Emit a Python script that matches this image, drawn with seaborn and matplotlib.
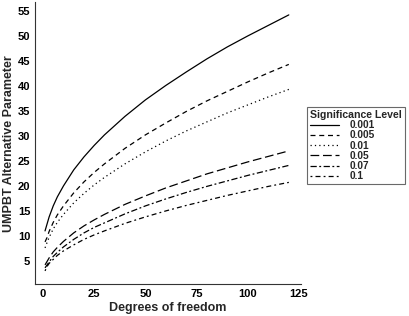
import numpy as np
import pandas as pd
import matplotlib
matplotlib.use('Agg')
import matplotlib.pyplot as plt
import seaborn as sns

df_vals = [1, 2, 3, 5, 7, 10, 15, 20, 25, 30, 40, 50, 60, 70, 80, 90, 100, 110, 120]

# UMPBT alternative parameter for each significance level
p_001 = [11.0, 12.4, 13.8, 16.0, 17.8, 20.0, 23.2, 25.8, 28.1, 30.2, 33.9, 37.2, 40.1, 42.8, 45.4, 47.8, 50.0, 52.1, 54.2]
p_005 = [8.8, 9.7, 10.9, 12.7, 14.2, 16.0, 18.6, 20.8, 22.7, 24.4, 27.5, 30.2, 32.6, 34.9, 37.0, 38.9, 40.8, 42.6, 44.3]
p_01 = [7.6, 8.7, 9.7, 11.4, 12.7, 14.3, 16.6, 18.5, 20.2, 21.7, 24.4, 26.8, 29.0, 31.0, 32.8, 34.6, 36.2, 37.8, 39.3]
p_05 = [4.2, 4.9, 5.6, 6.8, 7.7, 8.9, 10.6, 12.0, 13.2, 14.3, 16.3, 18.0, 19.6, 21.0, 22.4, 23.6, 24.8, 25.9, 27.0]
p_07 = [3.6, 4.2, 4.8, 5.9, 6.7, 7.8, 9.3, 10.6, 11.7, 12.6, 14.4, 16.0, 17.4, 18.7, 19.9, 21.0, 22.1, 23.1, 24.1]
p_1 = [3.0, 3.9, 4.5, 5.3, 6.1, 7.0, 8.2, 9.3, 10.2, 11.0, 12.5, 13.8, 15.0, 16.1, 17.1, 18.1, 19.0, 19.9, 20.7]

levels = ['0.001', '0.005', '0.01', '0.05', '0.07', '0.1']
series = [p_001, p_005, p_01, p_05, p_07, p_1]

# long format for seaborn
frames = []
for lev, vals in zip(levels, series):
    frames.append(pd.DataFrame({'df': df_vals, 'value': vals, 'level': lev}))
data = pd.concat(frames, ignore_index=True)

sns.set_style('white')
plt.rcParams['font.family'] = ['Liberation Sans', 'DejaVu Sans']

# line types similar to ggplot: solid, dashed, dotted, longdash, twodash, dotdash
dash_map = {
    '0.001': '',
    '0.005': (4, 3),
    '0.01': (1, 2.5),
    '0.05': (7, 3),
    '0.07': (5, 2, 1.5, 2),
    '0.1': (1.5, 2.5, 4, 2.5),
}

fig = plt.figure(figsize=(4.09, 3.16), dpi=100)
ax = fig.add_axes([35 / 409, 0.1, (301 - 35) / 409, 0.894])

sns.lineplot(data=data, x='df', y='value', style='level', style_order=levels,
             dashes=dash_map, color='black', linewidth=0.9, ax=ax, legend=True)

ax.set_xlim(-3.9, 125.95)
ax.set_ylim(0.3, 56.8)
ax.set_xticks([0, 25, 50, 75, 100, 125])
ax.set_yticks(np.arange(5, 56, 5))

for side in ['top', 'right']:
    ax.spines[side].set_visible(False)
for side in ['left', 'bottom']:
    ax.spines[side].set_color('#333333')
    ax.spines[side].set_linewidth(0.8)

ax.tick_params(axis='both', length=2, width=0.6, color='#333333', pad=1.5,
               labelsize=8)
for lab in ax.get_xticklabels() + ax.get_yticklabels():
    lab.set_fontweight('bold')
    lab.set_color('black')

ax.set_xlabel('Degrees of freedom', fontsize=9, fontweight='bold', labelpad=2)
ax.set_ylabel('UMPBT Alternative Parameter', fontsize=9, fontweight='bold', labelpad=2)

handles, labels = ax.get_legend_handles_labels()
ax.get_legend().remove()
leg = fig.legend(handles, labels, title='Significance Level', loc='upper left',
                 bbox_to_anchor=(307 / 409, 1 - 107 / 316), frameon=True,
                 fancybox=False, edgecolor='#444444', fontsize=7.3,
                 title_fontproperties={'weight': 'bold', 'size': 7.6},
                 handlelength=2.9, handletextpad=1.0, labelspacing=0.02,
                 borderpad=0.3, borderaxespad=0, alignment='left')
leg.get_frame().set_linewidth(0.8)
for t in leg.get_texts():
    t.set_fontweight('bold')

fig.savefig('out.png', dpi=100)
